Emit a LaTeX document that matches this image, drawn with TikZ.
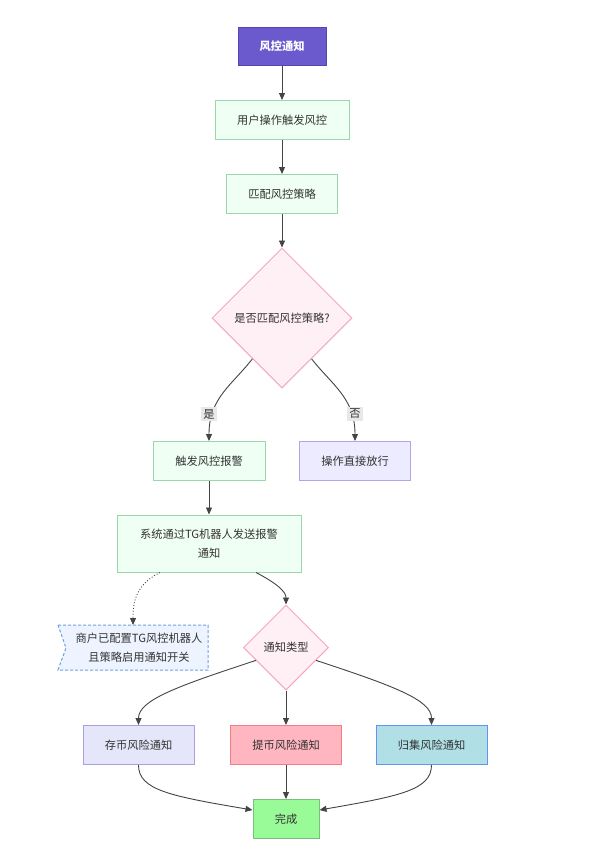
\documentclass[tikz,border=0pt]{standalone}
\usepackage{fontspec}
\setmainfont{Noto Sans CJK SC}
\usetikzlibrary{shapes.geometric,arrows.meta,calc}
\definecolor{txt}{HTML}{333333}
\definecolor{edgec}{HTML}{444444}
\definecolor{startf}{HTML}{6A5ACD}
\definecolor{startd}{HTML}{5546B8}
\definecolor{greenf}{HTML}{F0FFF4}
\definecolor{greend}{HTML}{98D8AA}
\definecolor{pinkf}{HTML}{FFF0F5}
\definecolor{pinkd}{HTML}{F4A6C8}
\definecolor{lavf}{HTML}{ECEBFF}
\definecolor{lavd}{HTML}{B3A6E6}
\definecolor{depf}{HTML}{E6E6FA}
\definecolor{depd}{HTML}{A9A0E0}
\definecolor{wdf}{HTML}{FFB6C1}
\definecolor{wdd}{HTML}{F08080}
\definecolor{colf}{HTML}{B0E0E6}
\definecolor{cold}{HTML}{6495ED}
\definecolor{donef}{HTML}{98FB98}
\definecolor{doned}{HTML}{7CBF7C}
\definecolor{notef}{HTML}{EEF4FF}
\definecolor{noted}{HTML}{6F9FE0}
\definecolor{lblf}{HTML}{E8E8E8}
\begin{document}
\begin{tikzpicture}[x=1pt,y=-1pt,
  every node/.style={font=\fontsize{11.25}{19}\selectfont, text=txt},
  box/.style={rectangle, draw, line width=1pt, inner sep=0pt, minimum height=39pt, align=center},
  gbox/.style={box, fill=greenf, draw=greend},
  dia/.style={diamond, draw=pinkd, fill=pinkf, line width=1pt, inner sep=0pt, aspect=1, align=center},
  edge/.style={draw=edgec, line width=0.9pt, -{Triangle[length=7pt,width=6pt]}},
  lbl/.style={fill=lblf, inner sep=2pt, font=\fontsize{11.25}{13}\selectfont},
  noteshape/.style={noted, dashed, line width=1pt, dash pattern=on 3pt off 2pt, fill=notef}
]
\useasboundingbox (0,0) rectangle (592,863);
\fill[white] (0,0) rectangle (592,863);

% nodes
\node[box, fill=startf, draw=startd, minimum width=88pt, minimum height=38pt, text=white, font=\fontsize{11.25}{19}\selectfont\bfseries] (n0) at (282,46) {风控通知};
\node[gbox, minimum width=134pt] (n1) at (282,120) {用户操作触发风控};
\node[gbox, minimum width=111pt] (n2) at (282,194) {匹配风控策略};
\node[dia, minimum width=140pt, minimum height=140pt] (d1) at (282,318) {是否匹配风控策略?};
\node[gbox, minimum width=112pt] (alarm) at (209,461) {触发风控报警};
\node[box, fill=lavf, draw=lavd, minimum width=111pt] (pass) at (355,461) {操作直接放行};
\node[gbox, minimum width=184pt, minimum height=57pt] (sys) at (209,543.5) {系统通过TG机器人发送报警\\通知};

% note shape (flag with notch on the left)
\coordinate (notec) at (139,648);
\draw[noteshape] ($(notec)+(-81,-23)$) -- ($(notec)+(69,-23)$) -- ($(notec)+(69,22)$) -- ($(notec)+(-81,22)$) -- ($(notec)+(-73,0)$) -- cycle;
\node[inner sep=0pt, align=center] (note) at (notec) {商户已配置TG风控机器人\\且策略启用通知开关};
\coordinate (notetop) at ($(notec)+(-6,-23)$);

\node[dia, minimum width=85pt, minimum height=85pt] (d2) at (286,647.5) {通知类型};
\node[box, fill=depf, draw=depd, minimum width=111pt] (b1) at (138.5,745) {存币风险通知};
\node[box, fill=wdf, draw=wdd, minimum width=111pt] (b2) at (286,745) {提币风险通知};
\node[box, fill=colf, draw=cold, minimum width=111pt] (b3) at (431.5,745) {归集风险通知};
\node[box, fill=donef, draw=doned, minimum width=66pt] (done) at (286,819) {完成};

% edges
\draw[edge] (n0) -- (n1);
\draw[edge] (n1) -- (n2);
\draw[edge] (n2) -- (d1);
\draw[edge] ($(d1.west)!0.58!(d1.south)$) .. controls (232,385) and (209,398) .. (alarm.north);
\draw[edge] ($(d1.east)!0.58!(d1.south)$) .. controls (332,385) and (355,398) .. (pass.north);
\draw[edge] (alarm) -- (sys);
\draw[edge, dotted] ($(sys.south)+(-49,0)$) .. controls (137,584) and (133,600) .. (notetop);
\draw[edge] ($(sys.south)+(47,0)$) .. controls (278,584) and (286,592) .. (d2.north);
\draw[edge] ($(d2.west)!0.3!(d2.south)$) .. controls (178,686) and (138.5,700) .. (b1.north);
\draw[edge] (d2) -- (b2);
\draw[edge] ($(d2.east)!0.3!(d2.south)$) .. controls (394,686) and (431.5,700) .. (b3.north);
\draw[edge] (b1.south) .. controls (138.5,790) and (170,796) .. ($(done.west)+(0,-9)$);
\draw[edge] (b2) -- (done);
\draw[edge] (b3.south) .. controls (431.5,790) and (400,796) .. ($(done.east)+(0,-9)$);

% labels
\node[lbl] (ly) at (209,414) {是};
\node[lbl] (ln) at (355,414) {否};
\end{tikzpicture}
\end{document}
